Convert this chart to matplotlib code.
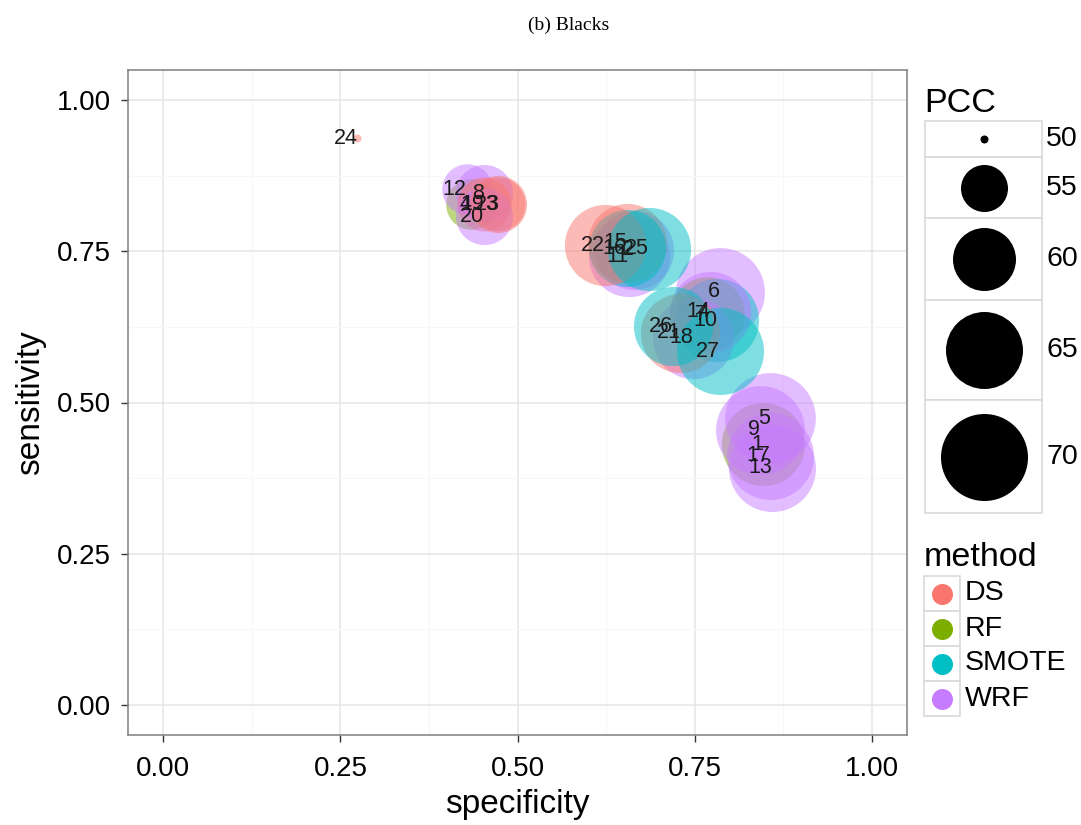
import numpy as np
import matplotlib
matplotlib.use("Agg")
import matplotlib.pyplot as plt
from matplotlib.patches import Rectangle

plt.rcParams['font.family'] = ['Liberation Sans', 'DejaVu Sans']

# ---------------- data ----------------
labels = [str(i) for i in range(1, 28)]
specificity = [0.847, 0.665, 0.473, 0.435, 0.857, 0.786, 0.767, 0.453, 0.842, 0.782,
               0.657, 0.428, 0.859, 0.772, 0.655, 0.654, 0.857, 0.748, 0.453, 0.453,
               0.730, 0.624, 0.473, 0.274, 0.685, 0.719, 0.786]
sensitivity = [0.431, 0.753, 0.828, 0.828, 0.474, 0.683, 0.646, 0.846, 0.455, 0.636,
               0.742, 0.853, 0.392, 0.650, 0.764, 0.755, 0.412, 0.607, 0.828, 0.808,
               0.615, 0.760, 0.828, 0.937, 0.754, 0.626, 0.585]
method = ['RF', 'WRF', 'DS', 'RF', 'WRF', 'WRF', 'RF', 'WRF', 'WRF', 'SMOTE',
          'WRF', 'WRF', 'WRF', 'WRF', 'DS', 'SMOTE', 'WRF', 'WRF', 'DS', 'WRF',
          'DS', 'DS', 'DS', 'DS', 'SMOTE', 'SMOTE', 'SMOTE']
pcc = [68, 66, 57, 56, 72, 71, 64, 58, 71, 68,
       67, 56, 70, 67, 66, 65, 70, 67, 57, 58,
       66, 67, 58, 50, 68, 66, 70]

methods = ['DS', 'RF', 'SMOTE', 'WRF']
method_colors = ['#F8766D', '#7CAE00', '#00BFC4', '#C77CFF']
pcc_breaks = [50, 55, 60, 65, 70]
x_ticks = [0.00, 0.25, 0.50, 0.75, 1.00]
y_ticks = [0.00, 0.25, 0.50, 0.75, 1.00]

# size scale: diameter in pixels at the legend breaks (area-linear)
break_diam_px = np.array([8, 47, 63, 77, 87], dtype=float)


def diam_px(v):
    v = np.asarray(v, dtype=float)
    areas = break_diam_px ** 2
    a = np.interp(v, pcc_breaks, areas)
    slope = (areas[-1] - areas[-2]) / (pcc_breaks[-1] - pcc_breaks[-2])
    a = np.where(v > pcc_breaks[-1], areas[-1] + slope * (v - pcc_breaks[-1]), a)
    return np.sqrt(a)


DPI = 100
PX2PT = 72.0 / DPI

fig = plt.figure(figsize=(10.81, 8.25), dpi=DPI)
W, H = 1081, 825
L, R, T, B = 128, 907, 70, 735
ax = fig.add_axes([L / W, 1 - B / H, (R - L) / W, (B - T) / H])
ax.set_facecolor('white')

ax.set_xlim(-0.05, 1.05)
ax.set_ylim(-0.05, 1.05)
ax.set_xticks(x_ticks)
ax.set_yticks(y_ticks)
ax.set_xticklabels([f"{t:.2f}" for t in x_ticks])
ax.set_yticklabels([f"{t:.2f}" for t in y_ticks])
ax.set_xticks(np.arange(0.125, 1.0, 0.25), minor=True)
ax.set_yticks(np.arange(0.125, 1.0, 0.25), minor=True)
ax.grid(which='major', color='#E5E5E5', linewidth=1.1)
ax.grid(which='minor', color='#F7F7F7', linewidth=0.8)
ax.set_axisbelow(True)
ax.tick_params(which='major', length=5, width=1, color='#333333', labelsize=20,
               labelcolor='black')
ax.tick_params(axis='x', which='major', pad=10)
ax.tick_params(axis='y', which='major', pad=7)
ax.tick_params(which='minor', length=0)
for sp in ax.spines.values():
    sp.set_color('#7F7F7F')
    sp.set_linewidth(1.1)
ax.set_xlabel('specificity', fontsize=24, labelpad=5)
ax.set_ylabel('sensitivity', fontsize=24, labelpad=8)

cmap = dict(zip(methods, method_colors))
sizes = (diam_px(pcc) * PX2PT) ** 2
for xi, yi, m, s in zip(specificity, sensitivity, method, sizes):
    ax.scatter([xi], [yi], s=s, color=cmap[m], alpha=0.5, linewidths=0, zorder=3)
for xi, yi, lab in zip(specificity, sensitivity, labels):
    ax.text(xi, yi, lab, ha='right', va='center', fontsize=15.5, color='#1A1A1A', zorder=5)

fig.text(569 / W, 1 - 25 / H, '(b) Blacks', ha='center', va='center',
         fontsize=14, family='Liberation Serif')

# ---------------- legends (overlay in pixel coords) ----------------
lg = fig.add_axes([0, 0, 1, 1], zorder=10)
lg.set_xlim(0, W)
lg.set_ylim(H, 0)
lg.axis('off')
lg.patch.set_alpha(0)

# PCC size legend
lg.text(924, 104, 'PCC', fontsize=24.5, ha='left', va='center')
y0 = 121
box_l, box_r = 925, 1042
cx = (box_l + box_r) / 2
for b, d in zip(pcc_breaks, break_diam_px):
    h = max(36, d * 1.3)
    lg.add_patch(Rectangle((box_l, y0), box_r - box_l, h, facecolor='white',
                           edgecolor='#D9D9D9', linewidth=1.2))
    yc = y0 + h / 2
    lg.scatter([cx], [yc], s=(d * PX2PT) ** 2, color='black', linewidths=0, zorder=3)
    lg.text(1046, yc, str(b), fontsize=20.5, ha='left', va='center')
    y0 += h

# method legend
lg.text(924, 557, 'method', fontsize=24.5, ha='left', va='center')
y0 = 576
for m, c in zip(methods, method_colors):
    h = 35
    lg.add_patch(Rectangle((924, y0), 36, h, facecolor='white',
                           edgecolor='#D9D9D9', linewidth=1.2))
    lg.scatter([942], [y0 + h / 2], s=(21 * PX2PT) ** 2, color=c, linewidths=0, zorder=3)
    lg.text(965, y0 + h / 2, m, fontsize=20.5, ha='left', va='center')
    y0 += h

fig.savefig('out.png', dpi=DPI, facecolor='white')
